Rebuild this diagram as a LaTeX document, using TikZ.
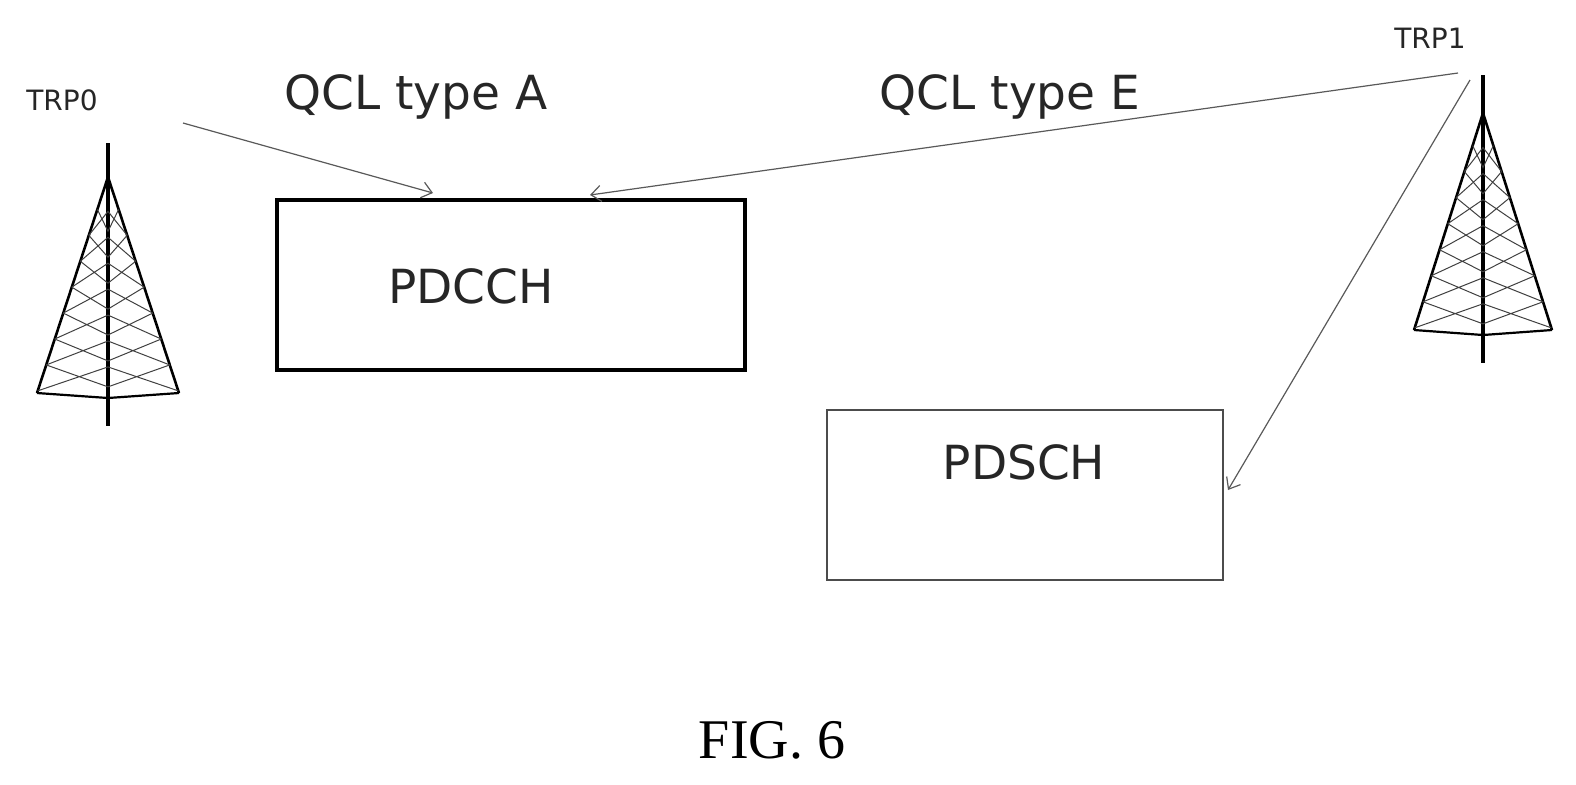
\documentclass[tikz,border=0pt]{standalone}
\usepackage{fontspec}
\setmainfont{DejaVu Sans}
\newfontfamily\serifz{Liberation Serif}
\usetikzlibrary{arrows.meta}
\begin{document}
\begin{tikzpicture}[x=0.5pt,y=-0.5pt,
  lbl/.style={font=\fontsize{23.5}{26}\selectfont, text=black!85},
  small/.style={font=\fontsize{14}{16}\selectfont, text=black!85},
  conn/.style={draw=black!65, line width=0.6pt, -{Straight Barb[length=5pt,width=8pt]}},
  box/.style={draw, line width=1.6pt, minimum width=234pt, minimum height=85pt, inner sep=0pt}]
\useasboundingbox (0,0) rectangle (1576,784);
\newcommand\mytower[5]{%
  \draw[line width=1.6pt] (#1,#2) -- (#1,#4+28);
  \draw[line width=1.3pt] (#1,#3) -- (#1-#5,#4-5) (#1,#3) -- (#1+#5,#4-5);
  \draw[line width=1.1pt] (#1-#5,#4-5) .. controls (#1-#5*0.4,#4-2) .. (#1,#4) .. controls (#1+#5*0.4,#4-2) .. (#1+#5,#4-5);
  \foreach \t in {0.15,0.27,0.39,0.51,0.63,0.75,0.87}{
    \pgfmathsetmacro\ya{#3+\t*(#4-5-#3)}
    \pgfmathsetmacro\yb{#3+(\t+0.12)*(#4-5-#3)}
    \pgfmathsetmacro\wa{\t*#5}
    \pgfmathsetmacro\wb{(\t+0.12)*#5}
    \draw[line width=0.5pt, black!75] (#1-\wa,\ya) -- (#1,\yb-4) -- (#1+\wa,\ya)
      (#1-\wb,\yb) -- (#1,\ya+2) -- (#1+\wb,\yb);
  }
}
\mytower{108}{143}{177}{398}{71}
\mytower{1483}{75}{113}{335}{69}
\node[small] (t0) at (62,100) {TRP0};
\node[small] (t1) at (1430,38) {TRP1};
\coordinate (s0) at (183,123);
\coordinate (s1) at (1458,73);
\coordinate (s2) at (1470,80);
\node[box] (pdcch) at (511,285) {};
\node[lbl] (pdcchl) at (471,286) {PDCCH};
\node[box, draw=black!70, line width=1.4pt, minimum width=198pt] (pdsch) at (1025,495) {};
\node[lbl] (pdschl) at (1024,462) {PDSCH};
\node[lbl] (qa) at (416,97) {QCL type A};
\node[lbl] (qe) at (1010,97) {QCL type E};
\draw[conn] (s0) -- (433,193);
\draw[conn] (s1) -- (590,195);
\draw[conn] (s2) -- (1228,490);
\node[font=\serifz\fontsize{28}{32}\selectfont] (fig) at (772,740) {FIG. 6};
\end{tikzpicture}
\end{document}
